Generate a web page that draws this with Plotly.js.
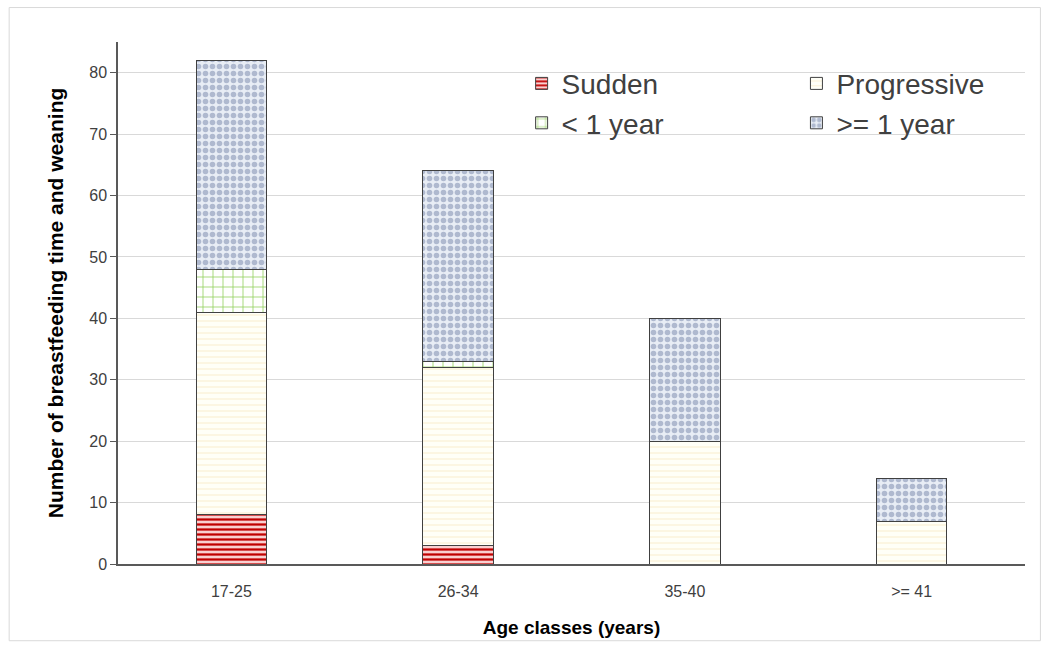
<!DOCTYPE html>
<html><head><meta charset="utf-8">
<script src="https://cdn.plot.ly/plotly-3.0.1.min.js"></script>
<style>html,body{margin:0;padding:0;background:#fff}#chart{width:1049px;height:652px}</style>
</head><body><div id="chart"></div>
<script>
const categories = ['17-25', '26-34', '35-40', '>= 41'];
const sudden = [8, 3, 0, 0];
const progressive = [33, 29, 20, 7];
const lessOneYear = [7, 1, 0, 0];
const oneYearPlus = [34, 31, 20, 7];
const yTicks = [0, 10, 20, 30, 40, 50, 60, 70, 80];

const line = {color: '#404040', width: 1};
const traces = [
  {name: 'Sudden', x: categories, y: sudden, type: 'bar', legend: 'legend', legendgroup: 'a', legendrank: 1,
   marker: {color: '#f9d0d0', line: line, pattern: {shape: '-', fgcolor: '#c00000', bgcolor: '#f9d0d0', size: 5, solidity: 0.45}}},
  {name: 'Progressive', x: categories, y: progressive, type: 'bar', legend: 'legend2', legendgroup: 'b', legendrank: 1,
   marker: {color: '#fffff7', line: line, pattern: {shape: '-', fgcolor: '#fbf1d4', bgcolor: '#fffff7', size: 6, solidity: 0.2}}},
  {name: '< 1 year', x: categories, y: lessOneYear, type: 'bar', legend: 'legend', legendgroup: 'c', legendrank: 2,
   marker: {color: '#ffffff', line: line, pattern: {shape: '+', fgcolor: '#8fcf5a', bgcolor: '#ffffff', size: 10, solidity: 0.15}}},
  {name: '>= 1 year', x: categories, y: oneYearPlus, type: 'bar', legend: 'legend2', legendgroup: 'd', legendrank: 2,
   marker: {color: '#e4e9f2', line: line, pattern: {shape: '.', fgcolor: '#afb9cf', bgcolor: '#e8edf5', size: 7, solidity: 0.5}}}
];

const legendFont = {family: 'Liberation Sans, Arial, sans-serif', size: 28, color: '#404040'};
const layout = {
  width: 1049, height: 652,
  margin: {l: 118, r: 24, t: 42, b: 88},
  paper_bgcolor: '#ffffff', plot_bgcolor: '#ffffff',
  barmode: 'stack', bargap: 0.69,
  font: {family: 'Liberation Sans, Arial, sans-serif', color: '#595959'},
  xaxis: {
    type: 'category', showgrid: false, showline: true, linecolor: '#595959', linewidth: 1.5,
    ticks: '', tickfont: {size: 16, color: '#404040'}, ticklabelstandoff: 12,
    title: {text: '<b>Age classes (years)</b>', font: {size: 19, color: '#000000'}, standoff: 22}
  },
  yaxis: {
    range: [0, 85], tickvals: yTicks, showgrid: true, gridcolor: '#d9d9d9', gridwidth: 1,
    showline: true, linecolor: '#595959', linewidth: 1.5, ticks: 'outside', ticklen: 6, tickcolor: '#595959',
    tickfont: {size: 16, color: '#404040'}, zeroline: false,
    title: {text: '<b>Number of breastfeeding time and weaning</b>', font: {size: 21, color: '#000000'}, standoff: 20}
  },
  showlegend: true,
  legend: {x: 0.445, y: 0.968, xanchor: 'left', yanchor: 'top', orientation: 'v', bgcolor: 'rgba(0,0,0,0)',
           font: legendFont, tracegroupgap: 6, traceorder: 'normal', itemwidth: 30},
  legend2: {x: 0.748, y: 0.968, xanchor: 'left', yanchor: 'top', orientation: 'v', bgcolor: 'rgba(0,0,0,0)',
            font: legendFont, tracegroupgap: 6, traceorder: 'normal', itemwidth: 30},
  shapes: [
    {type: 'rect', xref: 'paper', yref: 'paper', x0: -0.12, x1: 1.017, y0: -0.147, y1: 1.066,
     line: {color: '#d9d9d9', width: 1}, fillcolor: 'rgba(0,0,0,0)', layer: 'below'}
  ]
};
Plotly.newPlot('chart', traces, layout, {displayModeBar: false});
</script></body></html>
